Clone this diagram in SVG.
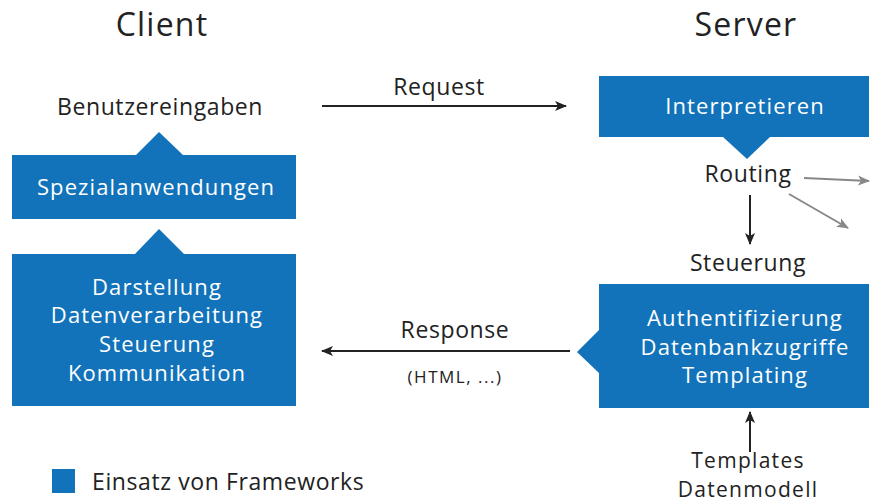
<svg xmlns="http://www.w3.org/2000/svg" width="876" height="504" viewBox="0 0 876 504">
<style>
text{font-family:"Open Sans",Lato,sans-serif;fill:#222}
.t{font-size:32px;text-anchor:middle;letter-spacing:1.2px}
.l{font-size:23px;text-anchor:middle;letter-spacing:0.6px}
.m{font-size:21px;text-anchor:middle;letter-spacing:1.3px}
.w{font-size:22px;fill:#fff;text-anchor:middle;letter-spacing:1.1px}
.s{font-size:17px;text-anchor:middle;letter-spacing:1.5px}
.b{fill:#1273bb}
.k{stroke:#222;stroke-width:2;fill:none}
.g{stroke:#888;stroke-width:2;fill:none}
</style>
<defs>
<marker id="ak" markerWidth="12" markerHeight="10" refX="11" refY="5" orient="auto" markerUnits="userSpaceOnUse"><path d="M0,0 L12,5 L0,10 L3,5 Z" fill="#222"/></marker>
<marker id="ag" markerWidth="12" markerHeight="10" refX="11" refY="5" orient="auto" markerUnits="userSpaceOnUse"><path d="M0,0 L12,5 L0,10 L3,5 Z" fill="#888"/></marker>
</defs>
<text class="t" x="162" y="36">Client</text>
<text class="t" x="746" y="36">Server</text>
<g id="benutzereingaben"><text class="l" x="160" y="115">Benutzereingaben</text></g>
<g id="spezial"><path class="b" d="M12,155 H136 L159,132 L183,155 H296 V219 H12 Z"/><text class="w" x="156" y="195">Spezialanwendungen</text></g>
<g id="client-main"><path class="b" d="M12,254 H135 L159,229 L184,254 H296 V406 H12 Z"/>
<text class="w" x="157" y="295">Darstellung</text><text class="w" x="157" y="323">Datenverarbeitung</text><text class="w" x="157" y="352">Steuerung</text><text class="w" x="157" y="381">Kommunikation</text></g>
<g id="interpretieren"><path class="b" d="M599,76 H869 V137 H770 L747,159 L723,137 H599 Z"/><text class="w" x="745" y="114">Interpretieren</text></g>
<g id="routing"><text class="l" x="748" y="182">Routing</text></g>
<g id="steuerung"><text class="l" x="748" y="271">Steuerung</text></g>
<g id="server-main"><path class="b" d="M599,284 H869 V408 H599 V373 L577,352 L599,330 Z"/>
<text class="w" x="745" y="326">Authentifizierung</text><text class="w" x="745" y="355">Datenbankzugriffe</text><text class="w" x="745" y="383">Templating</text></g>
<g id="templates"><text class="m" x="748" y="468">Templates</text><text class="m" x="748" y="497">Datenmodell</text></g>
<g id="legend"><rect class="b" x="52" y="469" width="23" height="24"/><text x="92" y="490" style="font-size:23px;letter-spacing:0.6px">Einsatz von Frameworks</text></g>
<g id="connectors">
<line class="k" x1="322" y1="106" x2="566" y2="106" marker-end="url(#ak)"/>
<text class="l" x="439" y="95">Request</text>
<line class="k" x1="570" y1="351" x2="322" y2="351" marker-end="url(#ak)"/>
<text class="l" x="455" y="338">Response</text>
<text class="s" x="455" y="383">(HTML, ...)</text>
<line class="k" x1="750" y1="195" x2="750" y2="244" marker-end="url(#ak)"/>
<line class="g" x1="804" y1="178" x2="869" y2="181" marker-end="url(#ag)"/>
<line class="g" x1="789" y1="194" x2="848" y2="228" marker-end="url(#ag)"/>
<line class="k" x1="750" y1="452" x2="750" y2="412" marker-end="url(#ak)"/>
</g>
</svg>
